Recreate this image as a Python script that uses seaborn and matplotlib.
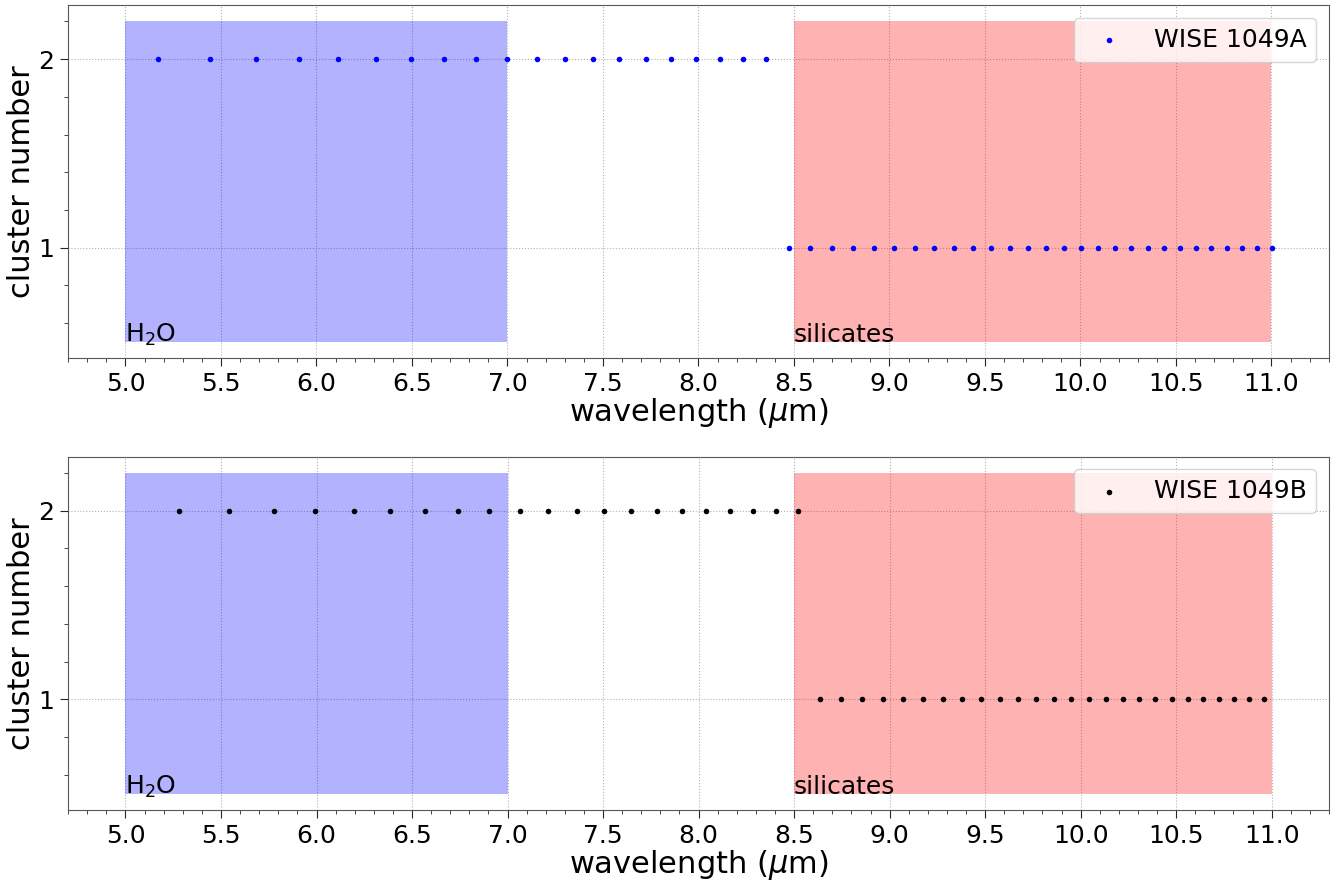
import numpy as np
import pandas as pd
import seaborn as sns
import matplotlib
matplotlib.use("Agg")
import matplotlib.pyplot as plt
from matplotlib.ticker import AutoMinorLocator

# Wavelengths (micron) assigned to each cluster
a_cluster2 = [5.169, 5.440, 5.684, 5.907, 6.114, 6.309, 6.493, 6.669, 6.836, 6.996,
              7.152, 7.301, 7.448, 7.586, 7.724, 7.856, 7.987, 8.111, 8.234, 8.354]
a_cluster1 = [8.473, 8.586, 8.701, 8.810, 8.918, 9.026, 9.131, 9.233, 9.336, 9.435,
              9.534, 9.632, 9.727, 9.820, 9.912, 10.003, 10.091, 10.180, 10.267, 10.352,
              10.438, 10.521, 10.605, 10.685, 10.767, 10.847, 10.925, 11.001]
b_cluster2 = [5.282, 5.542, 5.777, 5.994, 6.196, 6.387, 6.568, 6.739, 6.902, 7.063,
              7.214, 7.362, 7.507, 7.646, 7.780, 7.912, 8.039, 8.163, 8.286, 8.405, 8.521]
b_cluster1 = [8.636, 8.748, 8.857, 8.965, 9.072, 9.176, 9.278, 9.380, 9.479, 9.576,
              9.674, 9.768, 9.861, 9.952, 10.043, 10.132, 10.221, 10.307, 10.391, 10.476,
              10.560, 10.641, 10.723, 10.803, 10.881, 10.960]

# absorption bands
h2o_band = (5.0, 7.0)
sil_band = (8.5, 11.0)
band_y = (0.5, 2.2)

sns.set_style("ticks", {"axes.grid": True, "grid.linestyle": ":", "grid.color": "0.7"})
plt.rcParams["font.family"] = ["DejaVu Sans"]
plt.rcParams["text.color"] = "black"
plt.rcParams["axes.labelcolor"] = "black"
plt.rcParams["xtick.labelcolor"] = "black"
plt.rcParams["ytick.labelcolor"] = "black"

fig, axes = plt.subplots(2, 1, figsize=(13.37, 8.81), dpi=100)
fig.subplots_adjust(left=0.051, right=0.994, top=0.994, bottom=0.081, hspace=0.28)

panels = [
    ("WISE 1049A", a_cluster2, a_cluster1, "blue"),
    ("WISE 1049B", b_cluster2, b_cluster1, "black"),
]

for ax, (name, c2, c1, col) in zip(axes, panels):
    df = pd.DataFrame({
        "wavelength": c2 + c1,
        "cluster": [2] * len(c2) + [1] * len(c1),
    })
    ax.fill_between(h2o_band, band_y[0], band_y[1], color="blue", alpha=0.3, linewidth=0)
    ax.fill_between(sil_band, band_y[0], band_y[1], color="red", alpha=0.3, linewidth=0)
    sns.scatterplot(data=df, x="wavelength", y="cluster", ax=ax, color=col,
                    s=16, linewidth=0, label=name, zorder=3)
    ax.text(h2o_band[0], band_y[0], r"H$_2$O", fontsize=18)
    ax.text(sil_band[0], band_y[0], "silicates", fontsize=18)

    ax.set_xticks(np.arange(5.0, 11.01, 0.5))
    ax.set_yticks([1, 2])
    ax.xaxis.set_minor_locator(AutoMinorLocator())
    ax.yaxis.set_minor_locator(AutoMinorLocator())
    ax.tick_params(axis="both", which="major", labelsize=18, length=6, pad=4)
    ax.tick_params(axis="both", which="minor", length=3)
    ax.grid(True, which="major", linestyle=":", color="0.7")
    ax.set_xlabel(r"wavelength ($\mu$m)", fontsize=22, labelpad=0)
    ax.set_ylabel("cluster number", fontsize=22, labelpad=2)
    ax.legend(loc="upper right", fontsize=18, markerscale=1.0, framealpha=0.8)
    for sp in ax.spines.values():
        sp.set_color("0.35")

fig.savefig("out.png", dpi=100)
